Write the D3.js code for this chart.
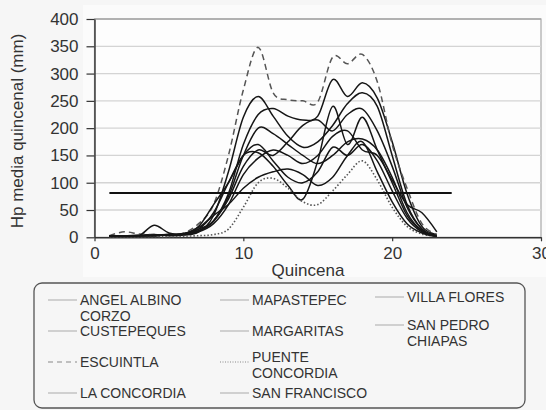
<!DOCTYPE html>
<html>
<head>
<meta charset="utf-8">
<script src="https://cdn.jsdelivr.net/npm/d3@7"></script>
<style>
  body { margin: 0; background: #f6f6f6; }
  svg { display: block; font-family: "Liberation Sans", Arial, sans-serif; }
</style>
</head>
<body>
<div id="chart"></div>
<script>
// quincena (x) values
const quincenas = [1,2,3,4,5,6,7,8,9,10,11,12,13,14,15,16,17,18,19,20,21,22,23];

// precipitation per station (mm)
const angelAlbino  = [2,2,3,5,3,4,10,40,120,220,258,222,185,165,175,205,245,265,240,150,60,15,3];
const custepeques  = [3,3,4,4,5,6,12,30,80,170,225,236,222,215,222,289,258,283,255,175,80,20,5];
const escuintla    = [3,10,6,5,5,8,25,60,150,270,348,265,252,250,248,330,318,335,285,170,90,25,5];
const laConcordia  = [3,3,3,4,5,7,15,30,75,150,200,190,170,150,135,150,175,180,160,110,45,12,2];
const mapastepec   = [3,3,3,22,8,5,12,30,70,130,160,150,175,205,215,195,225,235,195,130,55,15,3];
const margaritas   = [3,3,3,3,4,6,15,45,100,150,155,130,95,70,140,240,170,220,160,100,40,12,3];
const puente       = [1,1,1,1,1,2,3,5,15,55,100,108,90,65,60,85,115,140,105,55,20,6,2];
const sanFrancisco = [2,2,3,3,4,6,20,60,100,150,170,140,110,100,120,165,150,170,140,85,35,10,2];
const villaFlores  = [2,2,3,4,5,6,18,40,60,90,110,120,125,115,95,110,150,175,120,65,25,8,2];
const sanPedro     = [2,2,3,3,4,5,10,25,60,115,145,160,150,135,150,185,195,160,150,105,60,45,10];

// threshold line
const refX = [1, 24];
const refValue = 81;

const seriesNames = ["ANGEL ALBINO CORZO","CUSTEPEQUES","ESCUINTLA","LA CONCORDIA",
  "MAPASTEPEC","MARGARITAS","PUENTE CONCORDIA","SAN FRANCISCO","VILLA FLORES","SAN PEDRO CHIAPAS"];
const seriesValues = [angelAlbino, custepeques, escuintla, laConcordia,
  mapastepec, margaritas, puente, sanFrancisco, villaFlores, sanPedro];
const seriesStyle = ["solid","solid","dashed","solid","solid","solid","dotted","solid","solid","solid"];

const yTicks = [0,50,100,150,200,250,300,350,400];
const xTicks = [0,10,20,30];

const W = 546, H = 410;
const svg = d3.select("#chart").append("svg").attr("width", W).attr("height", H);

svg.append("rect").attr("x", 0).attr("y", 0).attr("width", W).attr("height", H).attr("fill", "#f6f6f6");
svg.append("rect").attr("x", 83).attr("y", 5).attr("width", W - 83).attr("height", 272).attr("fill", "#fbfbfb");

const x = d3.scaleLinear().domain([0, 30]).range([94.5, 541]);
const y = d3.scaleLinear().domain([0, 400]).range([237.3, 19]);

// plot background + grid
svg.append("rect").attr("x", x(0)).attr("y", y(400)).attr("width", x(30) - x(0)).attr("height", y(0) - y(400))
  .attr("fill", "#fdfdfd").attr("stroke", "#a8a8a8").attr("stroke-width", 1.2);

svg.append("g").selectAll("line").data(yTicks.filter(d => d > 0)).enter().append("line")
  .attr("x1", x(0)).attr("x2", x(30))
  .attr("y1", d => y(d)).attr("y2", d => y(d))
  .attr("stroke", d => d === 400 ? "#a8a8a8" : "#d4d4d4").attr("stroke-width", 1.3);

// axes
const yAxis = svg.append("g").attr("transform", `translate(${x(0)},0)`)
  .call(d3.axisLeft(y).tickValues(yTicks).tickSize(8).tickPadding(8).tickSizeOuter(0));
const xAxis = svg.append("g").attr("transform", `translate(0,${y(0)})`)
  .call(d3.axisBottom(x).tickValues(xTicks).tickSize(4).tickPadding(5.4).tickSizeOuter(0));

[yAxis, xAxis].forEach(g => {
  g.select(".domain").attr("stroke", "#333").attr("stroke-width", 1.4);
  g.selectAll(".tick line").attr("stroke", "#333").attr("stroke-width", 1.2);
  g.selectAll(".tick text").attr("fill", "#333").style("font-size", "17px")
    .style("font-family", '"Liberation Sans", Arial, sans-serif');
});

// axis titles
svg.append("text").attr("x", 308).attr("y", 276).attr("text-anchor", "middle")
  .attr("fill", "#333").style("font-size", "17px").text("Quincena");
svg.append("text").attr("transform", "translate(23,131) rotate(-90)").attr("text-anchor", "middle")
  .attr("fill", "#333").style("font-size", "17px").text("Hp media quincenal (mm)");

// series lines
const line = d3.line()
  .x((d, i) => x(quincenas[i]))
  .y(d => y(d))
  .curve(d3.curveCatmullRom.alpha(0));

const lineLayer = svg.append("g");
seriesValues.forEach((vals, i) => {
  const st = seriesStyle[i];
  lineLayer.append("path")
    .attr("d", line(vals))
    .attr("fill", "none")
    .attr("stroke", st === "solid" ? "#161616" : "#555")
    .attr("stroke-width", st === "dotted" ? 1.6 : 1.5)
    .attr("stroke-dasharray", st === "dashed" ? "6,4" : st === "dotted" ? "1.5,2" : null);
});

// reference line
svg.append("line")
  .attr("x1", x(refX[0])).attr("x2", x(refX[1]))
  .attr("y1", y(refValue)).attr("y2", y(refValue))
  .attr("stroke", "#111").attr("stroke-width", 2);

// legend
svg.append("rect").attr("x", 34).attr("y", 283).attr("width", 491).attr("height", 125)
  .attr("rx", 8).attr("fill", "none").attr("stroke", "#555").attr("stroke-width", 1.3);

const legendPos = [[48,300],[48,331],[48,362],[48,393],[220,300],[220,331],[220,362],[220,393],[375,297],[375,325]];
const legendLines = [["ANGEL ALBINO","CORZO"],["CUSTEPEQUES"],["ESCUINTLA"],["LA CONCORDIA"],
  ["MAPASTEPEC"],["MARGARITAS"],["PUENTE","CONCORDIA"],["SAN FRANCISCO"],["VILLA FLORES"],["SAN PEDRO","CHIAPAS"]];
const legendTextDy = [0,0,0,0,0,0,-5,0,0,0];

const legend = svg.append("g").selectAll("g").data(seriesNames).enter().append("g")
  .attr("transform", (d, i) => `translate(${legendPos[i][0]},${legendPos[i][1]})`);

legend.append("line")
  .attr("x1", 0).attr("x2", 29).attr("y1", 0).attr("y2", 0)
  .attr("stroke", (d, i) => seriesStyle[i] === "solid" ? "#aaa" : "#888")
  .attr("stroke-width", 1)
  .attr("stroke-dasharray", (d, i) => seriesStyle[i] === "dashed" ? "5,4" : seriesStyle[i] === "dotted" ? "1,1.5" : null);

legend.each(function (d, i) {
  const t = d3.select(this).append("text")
    .attr("x", 32).attr("y", 5 + legendTextDy[i])
    .attr("fill", "#333").style("font-size", "14px");
  legendLines[i].forEach((s, k) => {
    t.append("tspan").attr("x", 32).attr("dy", k === 0 ? 0 : 16).text(s);
  });
});
</script>
</body>
</html>
